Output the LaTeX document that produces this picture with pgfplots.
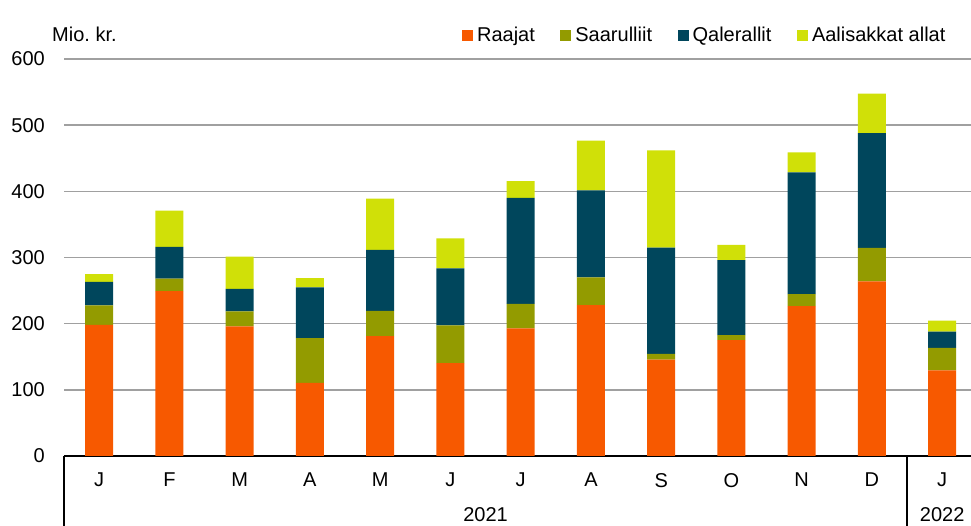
\documentclass[border=0pt]{standalone}
\usepackage{pgfplots}
\pgfplotsset{compat=1.18}
\usepackage{pgfplotstable}
\usepackage{fontspec}
\setmainfont{Liberation Sans}
\definecolor{cR}{RGB}{247,89,0}
\definecolor{cS}{RGB}{147,155,0}
\definecolor{cQ}{RGB}{0,70,92}
\definecolor{cA}{RGB}{208,224,8}
\definecolor{gridc}{RGB}{160,160,160}
\pgfplotstableread{
x R S Q A
0 198 29.5 35.5 12
1 249 19 48 55
2 196 22.5 34 49
3 110.5 67.5 77 14
4 181 38.5 92 77.5
5 140.5 57 86 45.5
6 193 37 160 25.5
7 228 42 131.5 75
8 145.5 9 160.5 147
9 175 7.5 113.5 23
10 226.5 18 184 30.5
11 264 50.5 173.5 59.5
12 129.5 34 24.5 16.5
}\datatable
\begin{document}
\fontsize{20}{24}\selectfont
\begin{tikzpicture}
\begin{axis}[
  at={(0,0)}, anchor=south west,
  scale only axis,
  width=907pt, height=397pt,
  xmin=-0.5, xmax=12.41,
  ymin=0, ymax=600,
  ytick={0,100,...,600},
  xtick={0,...,12},
  xticklabels={J,F,M,A,M,J,J,A,S,O,N,D,J},
  ybar stacked, bar width=28pt, bar shift=0pt,
  axis x line*=bottom, axis y line*=left,
  x axis line style={-, black, line width=2pt},
  y axis line style={draw=none},
  major tick length=0pt,
  ymajorgrids, major grid style={gridc, line width=1.4pt},
  /pgf/number format/assume math mode=true,
  tick label style={font=\fontsize{20}{24}\selectfont},
  xticklabel style={anchor=north, inner sep=0pt, yshift=-17pt},
  yticklabel style={anchor=east, inner sep=0pt, xshift=-19pt},
  clip=false,
  legend columns=4,
  legend style={draw=none, fill=none, at={(0.972,1.058)}, anchor=east,
    font=\fontsize{20}{24}\selectfont, inner sep=0pt,
    /tikz/every odd column/.append style={column sep=4pt},
    /tikz/every even column/.append style={column sep=25.5pt},
    nodes={inner sep=0pt}},
  legend image code/.code={\fill[#1] (0pt,-5.5pt) rectangle (11pt,5.5pt);},
]
\addplot[fill=cR, draw=none] table[x=x,y=R]{\datatable};
\addplot[fill=cS, draw=none] table[x=x,y=S]{\datatable};
\addplot[fill=cQ, draw=none] table[x=x,y=Q]{\datatable};
\addplot[fill=cA, draw=none] table[x=x,y=A]{\datatable};
\legend{Raajat,Saarulliit,Qalerallit,Aalisakkat allat}
\draw[black, line width=1.5pt] (axis cs:-0.5,0) -- ([yshift=-72pt]axis cs:-0.5,0);
\draw[black, line width=1.5pt] (axis cs:11.5,0) -- ([yshift=-72pt]axis cs:11.5,0);
\node[anchor=center] at ([yshift=-59pt]axis cs:5.5,0) {2021};
\node[anchor=center] at ([yshift=-59pt]axis cs:12,0) {2022};
\node[anchor=west, inner sep=0pt] at ([xshift=-12pt,yshift=25pt]axis cs:-0.5,600) {Mio.\ kr.};
\end{axis}
\pgfresetboundingbox
\path[use as bounding box] (-64pt,-70pt) rectangle (907pt,456pt);
\end{tikzpicture}
\end{document}
